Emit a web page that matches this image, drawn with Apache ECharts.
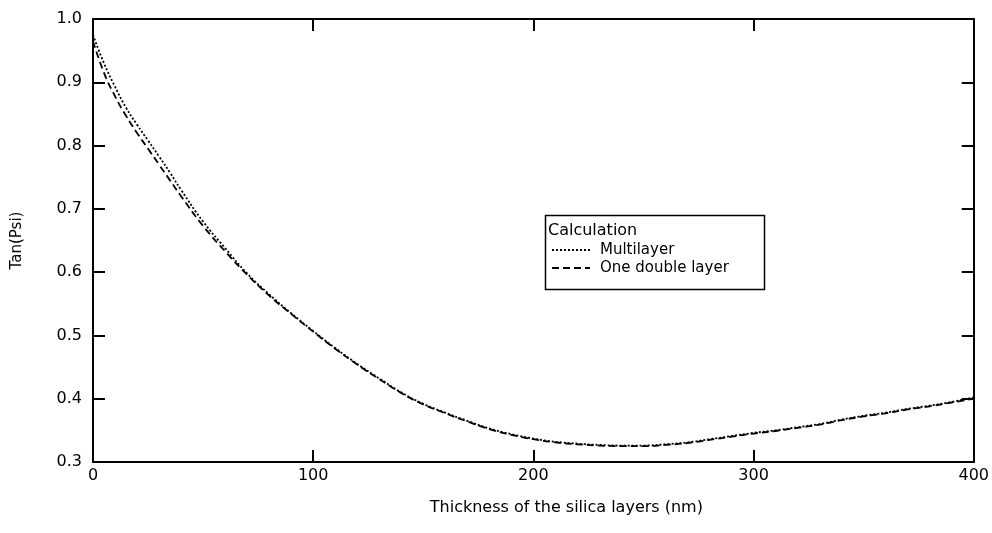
<!DOCTYPE html>
<html>
<head>
<meta charset="utf-8">
<script src="https://cdn.jsdelivr.net/npm/echarts@6/dist/echarts.min.js"></script>
<style>html,body{margin:0;padding:0;background:#fff;}#c{width:992px;height:533px;}</style>
</head>
<body>
<div id="c"></div>
<script>
const thickness = [0,5,10,15,20,25,30,35,40,50,60,70,80,90,100,110,120,130,140,150,160,170,180,190,200,210,220,230,240,250,260,270,280,290,300,310,320,330,340,350,360,370,380,390,400];
const multilayer = [0.975,0.930,0.893,0.860,0.833,0.808,0.783,0.757,0.730,0.680,0.638,0.598,0.565,0.535,0.507,0.480,0.455,0.432,0.410,0.392,0.378,0.365,0.353,0.344,0.337,0.332,0.329,0.327,0.326,0.326,0.328,0.331,0.336,0.341,0.346,0.350,0.355,0.360,0.367,0.373,0.378,0.384,0.389,0.395,0.402];
const doubleLayer = [0.965,0.915,0.878,0.847,0.820,0.795,0.770,0.745,0.720,0.673,0.633,0.596,0.563,0.534,0.506,0.479,0.454,0.431,0.409,0.391,0.377,0.364,0.352,0.343,0.336,0.331,0.328,0.326,0.325,0.325,0.327,0.330,0.335,0.340,0.345,0.349,0.354,0.359,0.366,0.372,0.377,0.383,0.388,0.394,0.400];
const xTicks = [0,100,200,300,400];
const yTicks = [0.3,0.4,0.5,0.6,0.7,0.8,0.9,1.0];
const legendTitle = 'Calculation';
const seriesNames = ['Multilayer','One double layer'];

const chart = echarts.init(document.getElementById('c'), null, {renderer:'canvas'});
const font = '"DejaVu Sans", Arial, sans-serif';
const axisLine = {show:true, onZero:false, lineStyle:{color:'#000', width:2}};
const tick = {show:true, inside:true, length:12, lineStyle:{color:'#000', width:2}};
chart.setOption({
  animation:false,
  backgroundColor:'#fff',
  grid:{left:93, right:16, top:19, bottom:71, containLabel:false},
  xAxis:[
    {type:'value', min:xTicks[0], max:xTicks[xTicks.length-1], interval:100, position:'bottom',
     axisLine:axisLine, axisTick:tick, splitLine:{show:false},
     axisLabel:{color:'#000', fontSize:16, fontFamily:font, margin:6},
     name:'Thickness of the silica layers (nm)', nameLocation:'middle', nameGap:38,
     nameTextStyle:{color:'#000', fontSize:16, fontFamily:font, padding:[0,0,0,66]}},
    {type:'value', min:xTicks[0], max:xTicks[xTicks.length-1], interval:100, position:'top',
     axisLine:axisLine, axisTick:tick, splitLine:{show:false}, axisLabel:{show:false}}
  ],
  yAxis:[
    {type:'value', min:yTicks[0], max:yTicks[yTicks.length-1], interval:0.1, position:'left',
     axisLine:axisLine, axisTick:tick, splitLine:{show:false},
     axisLabel:{color:'#000', fontSize:16, fontFamily:font, margin:11, formatter:v=>v.toFixed(1)},
     name:'Tan(Psi)', nameLocation:'middle', nameGap:68,
     nameTextStyle:{color:'#000', fontSize:15, fontFamily:font}},
    {type:'value', min:yTicks[0], max:yTicks[yTicks.length-1], interval:0.1, position:'right',
     axisLine:axisLine, axisTick:tick, splitLine:{show:false}, axisLabel:{show:false}}
  ],
  legend:{
    orient:'vertical', left:551, top:242, itemWidth:38, itemHeight:10, itemGap:2,
    data:seriesNames,
    itemStyle:{color:'rgba(0,0,0,0)', borderWidth:0, opacity:0},
    textStyle:{color:'#000', fontSize:15, fontFamily:font, lineHeight:16, padding:[0,0,0,5]},
    padding:0
  },
  graphic:[
    {type:'rect', left:543, top:213, shape:{width:219, height:74},
     style:{fill:'none', stroke:'#000', lineWidth:1.5}, z:10},
    {type:'text', left:548, top:223, style:{text:legendTitle, fill:'#000', font:'16px '+font}, z:10}
  ],
  series:[
    {name:seriesNames[0], type:'line', smooth:true, showSymbol:false, symbol:'none',
     data:thickness.map((t,i)=>[t, multilayer[i]]),
     lineStyle:{color:'#000', width:1.8, type:[2,2]}, itemStyle:{color:'#000'}},
    {name:seriesNames[1], type:'line', smooth:true, showSymbol:false, symbol:'none',
     data:thickness.map((t,i)=>[t, doubleLayer[i]]),
     lineStyle:{color:'#000', width:1.8, type:[7,4]}, itemStyle:{color:'#000'}}
  ]
});
</script>
</body>
</html>
